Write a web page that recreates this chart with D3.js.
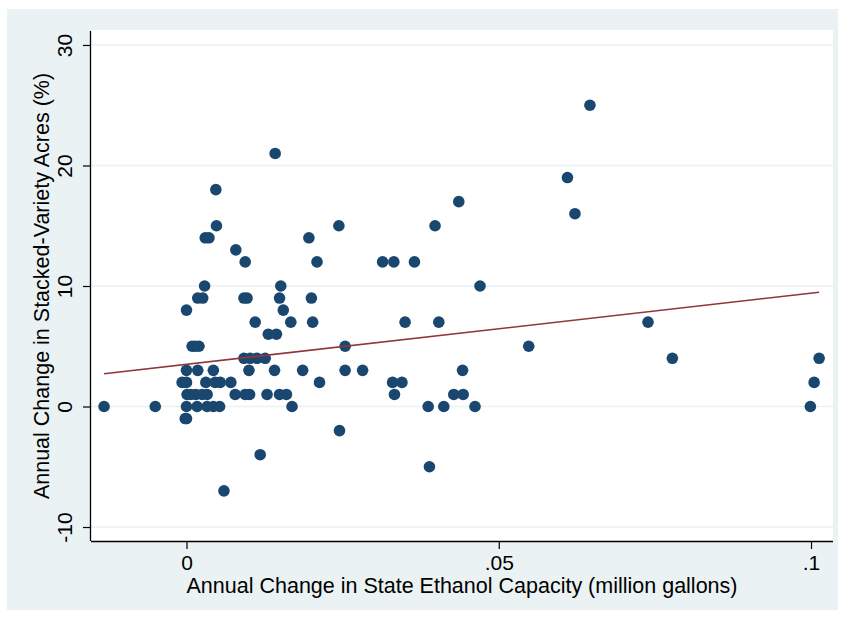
<!DOCTYPE html>
<html>
<head>
<meta charset="utf-8">
<script src="https://cdn.jsdelivr.net/npm/d3@7"></script>
<style>
  body { margin: 0; background: #fff; }
  svg { display: block; font-family: "Liberation Sans", Arial, Helvetica, sans-serif; }
</style>
</head>
<body>
<svg id="chart" width="846" height="619"></svg>
<script>
// capacity change (million gallons) and stacked-variety change (%)
const capacity = [
  0.0646, 0.0142, 0.0610, 0.0047, 0.0436, 0.0622,
  0.0048, 0.0244, 0.0398,
  0.0030, 0.0036, 0.0196,
  0.0079,
  0.0094, 0.0209, 0.0314, 0.0332, 0.0365,
  0.0029, 0.0151, 0.0470,
  0.0018, 0.0026, 0.0092, 0.0097, 0.0149, 0.0200,
  0.0000, 0.0155,
  0.0110, 0.0167, 0.0202, 0.0350, 0.0404, 0.0739,
  0.0131, 0.0144,
  0.0009, 0.0014, 0.0020, 0.0254, 0.0548,
  0.0092, 0.0102, 0.0113, 0.0126, 0.0778, 0.1013,
  0.0000, 0.0018, 0.0043, 0.0100, 0.0141, 0.0186, 0.0254, 0.0282, 0.0442,
  -0.0007, 0.0000, 0.0031, 0.0046, 0.0054, 0.0071, 0.0213, 0.0330, 0.0345, 0.1005,
  0.0001, 0.0007, 0.0015, 0.0025, 0.0033, 0.0078, 0.0094, 0.0101, 0.0129, 0.0149, 0.0160, 0.0333, 0.0428, 0.0443,
  -0.0132, -0.0050, 0.0000, 0.0017, 0.0033, 0.0043, 0.0053, 0.0169, 0.0387, 0.0412, 0.0462, 0.0999,
  -0.0002, 0.0000,
  0.0245, 0.0118, 0.0389, 0.0060
];
const stacked = [
  25, 21, 19, 18, 17, 16,
  15, 15, 15,
  14, 14, 14,
  13,
  12, 12, 12, 12, 12,
  10, 10, 10,
  9, 9, 9, 9, 9, 9,
  8, 8,
  7, 7, 7, 7, 7, 7,
  6, 6,
  5, 5, 5, 5, 5,
  4, 4, 4, 4, 4, 4,
  3, 3, 3, 3, 3, 3, 3, 3, 3,
  2, 2, 2, 2, 2, 2, 2, 2, 2, 2,
  1, 1, 1, 1, 1, 1, 1, 1, 1, 1, 1, 1, 1, 1,
  0, 0, 0, 0, 0, 0, 0, 0, 0, 0, 0, 0,
  -1, -1,
  -2, -4, -5, -7
];
// fitted line end points
const fitX = [-0.0132, 0.1013];
const fitY = [2.72, 9.48];

const xTicks = [0, 0.05, 0.1];
const xTickLabels = ['0', '.05', '.1'];
const yTicks = [-10, 0, 10, 20, 30];
const yTickLabels = ['-10', '0', '10', '20', '30'];

const points = capacity.map((c, i) => ({ x: c, y: stacked[i] }));
const fit = fitX.map((x, i) => ({ x: x, y: fitY[i] }));

const PLOT = { LEFT: 91, RIGHT: 833, TOP: 31, BOTTOM: 541 };

const svg = d3.select('#chart');

const xScale = d3.scaleLinear()
    .domain([-0.01529, 0.10352])
    .range([PLOT.LEFT, PLOT.RIGHT]);

const yScale = d3.scaleLinear()
    .domain([-11.16, 31.16])
    .range([PLOT.BOTTOM, PLOT.TOP]);

// graph region + plot region
svg.append('rect')
    .attr('x', 7).attr('y', 9)
    .attr('width', 831).attr('height', 601)
    .attr('fill', '#eaf2f3');

svg.append('rect')
    .attr('x', PLOT.LEFT).attr('y', PLOT.TOP - 1)
    .attr('width', PLOT.RIGHT - PLOT.LEFT).attr('height', PLOT.BOTTOM - PLOT.TOP + 1)
    .attr('fill', '#ffffff');

// grid lines
svg.append('g')
    .selectAll('line')
    .data(yTicks)
    .enter()
    .append('line')
    .attr('x1', PLOT.LEFT)
    .attr('x2', PLOT.RIGHT)
    .attr('y1', d => yScale(d))
    .attr('y2', d => yScale(d))
    .attr('stroke', '#eaf2f3')
    .attr('stroke-width', 1.5);

// dots
svg.append('g')
    .selectAll('circle')
    .data(points)
    .enter()
    .append('circle')
    .attr('cx', d => xScale(d.x))
    .attr('cy', d => yScale(d.y))
    .attr('r', 5.8)
    .attr('fill', '#1a476f');

// fitted line
const line = d3.line()
    .x(d => xScale(d.x))
    .y(d => yScale(d.y));

svg.append('path')
    .datum(fit)
    .attr('d', line)
    .attr('fill', 'none')
    .attr('stroke', '#90353b')
    .attr('stroke-width', 1.6);

// axes
const xAxis = d3.axisBottom(xScale)
    .tickValues(xTicks)
    .tickFormat((d, i) => xTickLabels[i])
    .tickSize(8)
    .tickSizeOuter(0);

const yAxis = d3.axisLeft(yScale)
    .tickValues(yTicks)
    .tickFormat((d, i) => yTickLabels[i])
    .tickSize(8)
    .tickSizeOuter(0);

const gx = svg.append('g')
    .attr('transform', `translate(0, ${PLOT.BOTTOM})`)
    .call(xAxis);
gx.select('.domain')
    .attr('d', `M${PLOT.LEFT},0.5H${PLOT.RIGHT}`)
    .attr('stroke', '#000').attr('stroke-width', 1.3);
gx.selectAll('.tick line').attr('stroke', '#000').attr('stroke-width', 1.2);
gx.selectAll('.tick text')
    .attr('y', 29)
    .attr('dy', 0)
    .attr('fill', '#000')
    .style('font-size', '21px')
    .style('font-family', '"Liberation Sans", Arial, sans-serif');

const gy = svg.append('g')
    .attr('transform', `translate(${PLOT.LEFT}, 0)`)
    .call(yAxis);
gy.select('.domain')
    .attr('d', `M-0.5,${PLOT.TOP}V${PLOT.BOTTOM}`)
    .attr('stroke', '#000').attr('stroke-width', 1.3);
gy.selectAll('.tick line').attr('stroke', '#000').attr('stroke-width', 1.2);
gy.selectAll('.tick text')
    .attr('transform', 'rotate(-90)')
    .attr('x', 0)
    .attr('y', -19)
    .attr('dy', 0)
    .attr('text-anchor', 'middle')
    .attr('fill', '#000')
    .style('font-size', '21px')
    .style('font-family', '"Liberation Sans", Arial, sans-serif');

// axis titles
svg.append('text')
    .attr('x', (PLOT.LEFT + PLOT.RIGHT) / 2)
    .attr('y', 593)
    .attr('text-anchor', 'middle')
    .attr('fill', '#000')
    .style('font-size', '21.5px')
    .text('Annual Change in State Ethanol Capacity (million gallons)');

svg.append('text')
    .attr('transform', `translate(49, ${(PLOT.TOP + PLOT.BOTTOM) / 2}) rotate(-90)`)
    .attr('text-anchor', 'middle')
    .attr('fill', '#000')
    .style('font-size', '21.5px')
    .text('Annual Change in Stacked-Variety Acres (%)');
</script>
</body>
</html>
